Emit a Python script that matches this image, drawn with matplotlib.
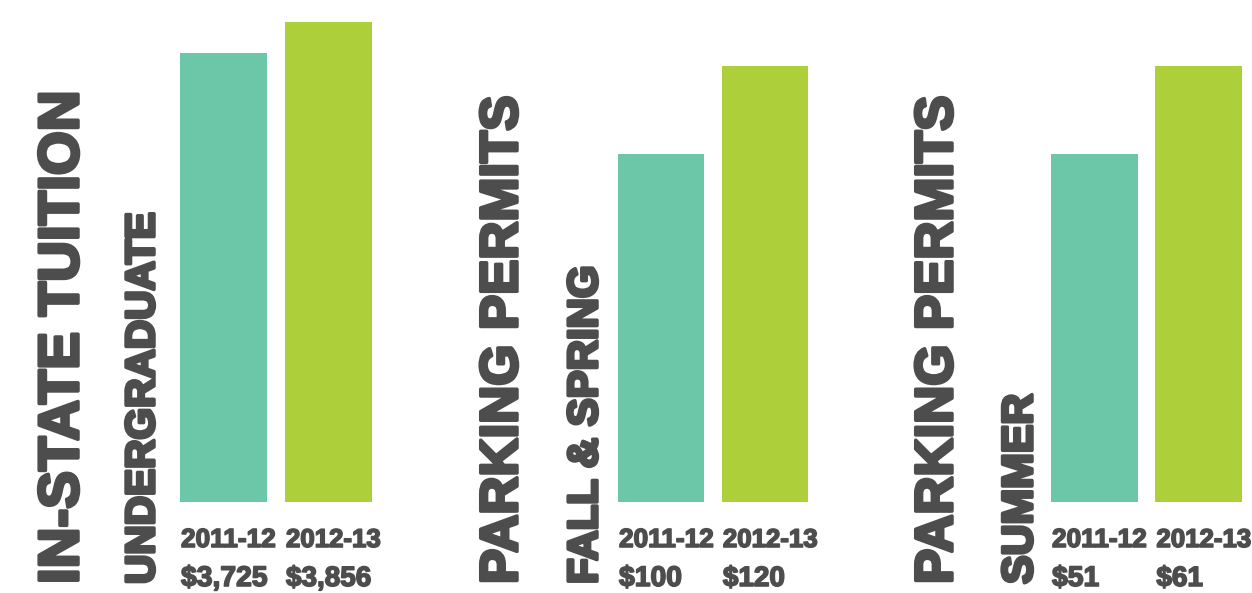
import matplotlib
matplotlib.use('Agg')
import matplotlib.pyplot as plt
import matplotlib.patheffects as pe
from matplotlib import font_manager

# data
years = ['2011-12', '2012-13']
tuition = [3725, 3856]
parking_fall_spring = [100, 120]
parking_summer = [51, 61]
titles = ['IN-STATE TUITION', 'PARKING PERMITS', 'PARKING PERMITS']
subtitles = ['UNDERGRADUATE', 'FALL & SPRING', 'SUMMER']
panels = [tuition, parking_fall_spring, parking_summer]

# bars don't start at zero in the original, each panel has its own scale
ylims = [(1827, 3856), (20.9, 130.0), (11.46, 66.0)]

colors = ['#6cc6a8', '#adcf3a']
dark = '#4d4d4d'

names = {f.name for f in font_manager.fontManager.ttflist}
font = 'Liberation Sans Narrow' if 'Liberation Sans Narrow' in names else 'Liberation Sans'

W, H = 1252, 593
fig = plt.figure(figsize=(W / 72, H / 72), dpi=72)
fig.patch.set_facecolor('white')
renderer = fig.canvas.get_renderer()

# pixel layout
ax_left = [180, 618, 1051]
ax_right = [372, 808, 1242]
ax_bottom, ax_top = 502, 22
title_x = [78, 517, 952]
title_len = [493, 488, 488]
sub_x = [154, 597, 1032]
sub_len = [371, 318, 190]
text_bottom = 584
w = 0.829

heavy = [pe.withStroke(linewidth=3.5, foreground=dark)]
heavy_small = [pe.withStroke(linewidth=1.6, foreground=dark)]


def fit(t, length, vertical):
    # scale font so the text spans the given pixel length
    bb = t.get_window_extent(renderer)
    cur = bb.height if vertical else bb.width
    t.set_fontsize(t.get_fontsize() * length / cur)


for k, vals in enumerate(panels):
    ax = fig.add_axes([ax_left[k] / W, (H - ax_bottom) / H,
                       (ax_right[k] - ax_left[k]) / W, (ax_bottom - ax_top) / H])
    ax.bar(range(len(vals)), vals, width=w, color=colors)
    ax.set_xlim(-w / 2, len(vals) - 1 + w / 2)
    ax.set_ylim(*ylims[k])
    ax.axis('off')

    for i, v in enumerate(vals):
        t1 = ax.annotate(years[i], xy=(i - w / 2, 0), xycoords=('data', 'axes fraction'),
                         xytext=(1, -45), textcoords='offset points',
                         ha='left', va='baseline', color=dark, fontsize=30,
                         family=font, fontweight='bold', annotation_clip=False)
        fit(t1, 95, False)
        t1.set_path_effects(heavy_small)
        ax.annotate(f'${v:,}', xy=(i - w / 2, 0), xycoords=('data', 'axes fraction'),
                    xytext=(1, -84), textcoords='offset points',
                    ha='left', va='baseline', color=dark, fontsize=t1.get_fontsize() * 1.08,
                    family=font, fontweight='bold', annotation_clip=False,
                    path_effects=heavy_small)

    t = fig.text(title_x[k] / W, (H - text_bottom) / H, titles[k], rotation=90,
                 rotation_mode='anchor', ha='left', va='baseline', color=dark,
                 fontsize=60, family=font, fontweight='bold')
    fit(t, title_len[k], True)
    t.set_path_effects(heavy)
    s = fig.text(sub_x[k] / W, (H - text_bottom) / H, subtitles[k], rotation=90,
                 rotation_mode='anchor', ha='left', va='baseline', color=dark,
                 fontsize=40, family=font, fontweight='bold')
    fit(s, sub_len[k], True)
    s.set_path_effects(heavy)

fig.savefig('out.png', dpi=72, facecolor='white')
